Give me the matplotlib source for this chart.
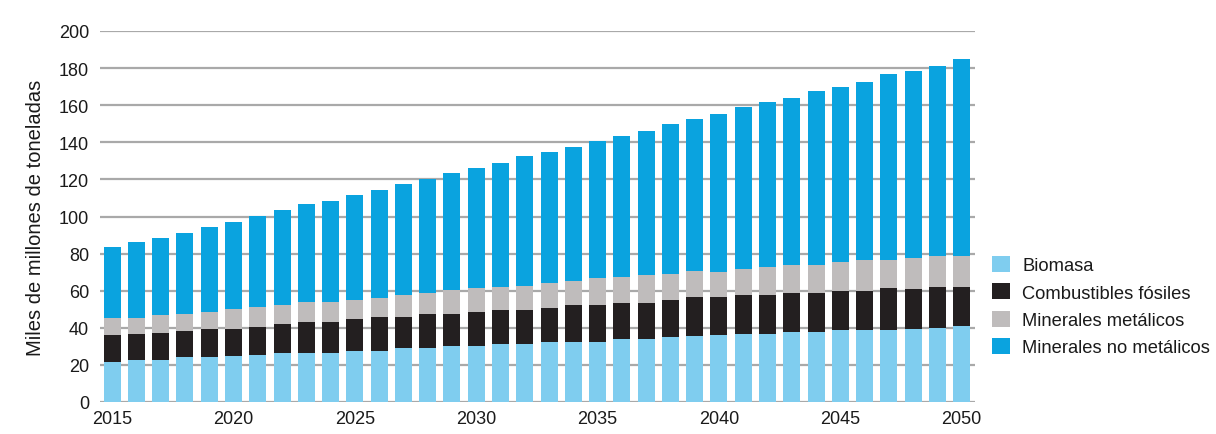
import matplotlib
matplotlib.use("Agg")
import matplotlib.pyplot as plt
import numpy as np

plt.rcParams['font.family'] = ['Liberation Sans', 'DejaVu Sans']

years = list(range(2015, 2051))
biomasa = [21.4, 22.7, 22.7, 24.1, 24.1, 25.0, 25.4, 26.3, 26.3, 26.3,
           27.7, 27.7, 29.2, 29.2, 30.4, 30.4, 31.4, 31.4, 32.3, 32.6,
           32.6, 33.7, 33.8, 35.0, 35.5, 36.2, 36.8, 36.8, 37.7, 37.7,
           38.6, 38.6, 39.0, 39.5, 39.8, 40.9]
fosiles = [14.5, 14.1, 14.4, 14.3, 15.2, 14.3, 15.3, 15.7, 16.8, 16.8,
           16.8, 18.1, 16.6, 18.0, 16.8, 18.1, 18.4, 18.4, 18.4, 19.5,
           19.5, 19.9, 19.8, 19.8, 21.2, 20.5, 20.7, 20.7, 20.8, 20.8,
           21.1, 21.1, 22.2, 21.5, 22.3, 21.2]
metalicos = [9.4, 8.5, 9.6, 9.2, 9.2, 10.7, 10.5, 10.5, 10.9, 10.9,
             10.7, 10.5, 11.7, 11.3, 13.0, 12.7, 12.2, 12.8, 13.2, 13.0,
             14.9, 13.9, 14.8, 14.2, 13.8, 13.5, 14.1, 15.4, 15.3, 15.3,
             15.9, 16.8, 15.3, 16.8, 16.8, 16.8]
no_metalicos = [38.2, 40.7, 41.6, 43.4, 46.1, 46.8, 49.3, 51.0, 52.5, 54.5,
                56.3, 58.2, 60.0, 61.8, 63.3, 64.8, 67.0, 69.9, 70.8, 72.4,
                73.5, 76.0, 77.6, 81.1, 82.3, 85.3, 87.5, 88.6, 90.2, 93.8,
                94.4, 96.2, 100.2, 100.7, 102.5, 106.0]

series = [
    ("Biomasa", biomasa, "#7fcdef"),
    ("Combustibles fósiles", fosiles, "#231f20"),
    ("Minerales metálicos", metalicos, "#bfbcbc"),
    ("Minerales no metálicos", no_metalicos, "#0aa3df"),
]
xticks = [2015, 2020, 2025, 2030, 2035, 2040, 2045, 2050]
yticks = [0, 20, 40, 60, 80, 100, 120, 140, 160, 180, 200]

fig = plt.figure(figsize=(12.16, 4.35), dpi=100)
ax = fig.add_axes([100/1216, 1 - 403/435, 875/1216, 371/435])

ax.set_axisbelow(True)
ax.yaxis.grid(True, color="#a9a9a9", linewidth=1.6)
bottom = np.zeros(len(years))
for name, vals, col in series:
    ax.bar(years, vals, bottom=bottom, width=0.7, color=col, label=name, linewidth=0)
    bottom += np.array(vals)

ax.set_xlim(2014.5, 2050.55)
ax.set_ylim(0, 200)
ax.set_xticks(xticks)
ax.set_yticks(yticks)
ax.tick_params(axis='both', length=0, labelsize=13, labelcolor="#1a1a1a")
ax.tick_params(axis='y', pad=8)
ax.tick_params(axis='x', pad=6)
for s in ax.spines.values():
    s.set_visible(False)
ax.set_ylabel("Miles de millones de toneladas", fontsize=14.5, labelpad=10, color="#1a1a1a")

leg = fig.legend(loc="upper left", bbox_to_anchor=(992/1216, 1 - 257/435), frameon=False,
                 fontsize=13.2, handlelength=1.0, handleheight=0.95, handletextpad=0.65,
                 labelspacing=0.5, borderaxespad=0, borderpad=0)
for t in leg.get_texts():
    t.set_color("#1a1a1a")

fig.savefig("out.png", dpi=100)
